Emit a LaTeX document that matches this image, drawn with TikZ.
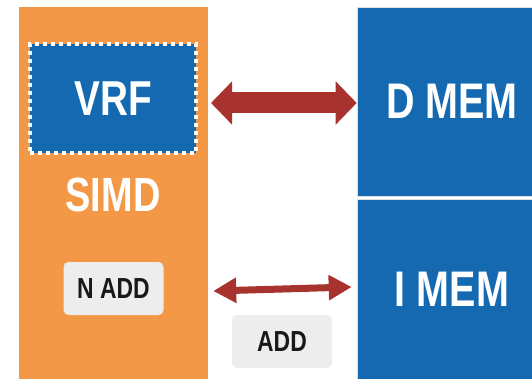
\documentclass[tikz,border=0pt]{standalone}
\usepackage{fontspec}
\setmainfont{Liberation Sans}
\newfontfamily\condfont[FakeStretch=0.79]{Liberation Sans}
\usepackage{xcolor}
\definecolor{simdorange}{RGB}{242,152,71}
\definecolor{memblue}{RGB}{20,105,176}
\definecolor{linkred}{RGB}{168,50,45}
\definecolor{opgray}{RGB}{237,237,237}
\usepackage{tikz}
\usetikzlibrary{arrows.meta, positioning}

\begin{document}
\begin{tikzpicture}[x=1pt, y=-1pt,
  simdblk/.style={
    rectangle, fill=simdorange, draw=none,
    minimum width=189pt, minimum height=373pt, inner sep=0pt,
  },
  regfile/.style={
    rectangle, fill=memblue, draw=white, line width=4pt,
    dash pattern=on 4pt off 4pt,
    minimum width=166pt, minimum height=109pt, inner sep=0pt,
    font=\condfont\bfseries\fontsize{49}{49}\selectfont, text=white,
  },
  memblock/.style={
    rectangle, fill=memblue, draw=gray!25, line width=0.6pt,
    minimum width=190pt, inner sep=0pt,
    font=\condfont\bfseries\fontsize{50}{50}\selectfont, text=white,
  },
  opbox/.style={
    rectangle, rounded corners=5pt, fill=opgray, draw=none,
    minimum width=100pt, minimum height=53pt, inner sep=0pt,
    font=\condfont\bfseries\fontsize{29}{29}\selectfont, text=black!90,
  },
  blocklabel/.style={
    font=\condfont\bfseries\fontsize{48}{48}\selectfont, text=white,
  },
  bigarrow/.style={
    draw=linkred, line width=21pt,
    {Triangle[length=21pt,width=42pt]}-{Triangle[length=21pt,width=42pt]},
  },
  thinarrow/.style={
    draw=linkred, line width=7pt,
    {Triangle[length=23pt,width=24pt]}-{Triangle[length=23pt,width=24pt]},
  },
]
\useasboundingbox (0,0) rectangle (532,379);
\clip (0,0) rectangle (532,379);

% --- SIMD unit ---
\node[simdblk] (simd) at (113.5,193.5) {};
\node[regfile] (vrf) at (113,98.5) {VRF};
\node[blocklabel] (simdlbl) at (113,195) {SIMD};
\node[opbox] (nadd) at (113.5,288.5) {N ADD};

% --- Memories ---
\node[memblock, minimum height=189pt] (dmem) at (452,101.5) {D MEM};
\node[memblock, minimum height=181pt] (imem) at (452,289.5) {I MEM};

% --- Scalar op ---
\node[opbox] (add) at (282,341.5) {ADD};

% --- Links ---
\draw[bigarrow] ([xshift=13pt]vrf.east |- 0,103) -- (dmem.west |- 0,103);
\draw[thinarrow] ([xshift=5pt]simd.east |- 0,291) -- ([xshift=-5pt]imem.west |- 0,287);

\end{tikzpicture}
\end{document}
